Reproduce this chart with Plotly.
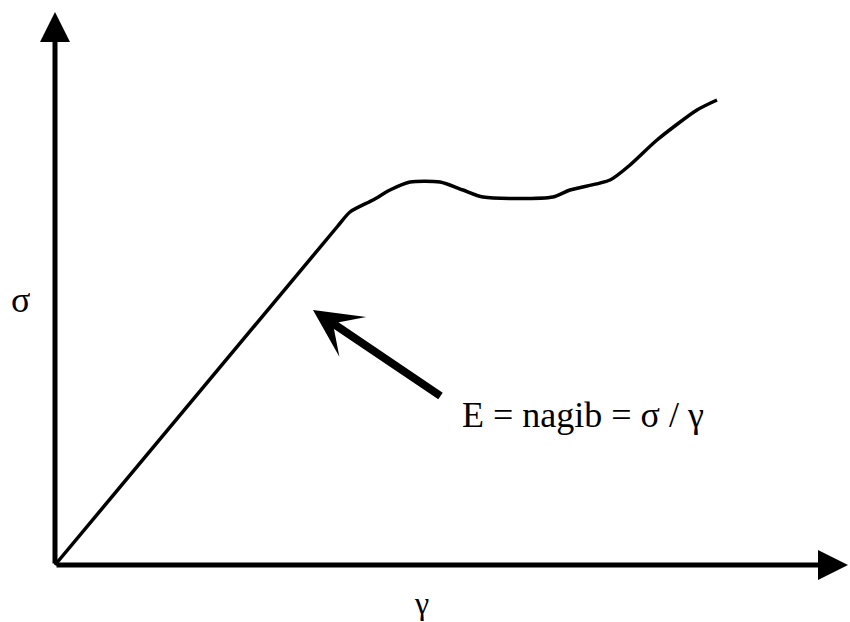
import plotly.graph_objects as go

##################
### data (arbitrary units)
gamma = [0.0, 2.82, 2.95, 3.18, 3.35, 3.55, 3.85, 4.08, 4.28, 4.98, 5.15, 5.55, 5.75, 6.02, 6.42, 6.62]
sigma = [0.0, 3.38, 3.53, 3.65, 3.75, 3.83, 3.83, 3.75, 3.68, 3.68, 3.75, 3.85, 4.00, 4.25, 4.55, 4.65]

# axis extents
gammaMax = 7.93
sigmaMax = 5.53

# label texts
xLabel = "γ"
yLabel = "σ"
noteText = "E = nagib = σ / γ"
# arrow pointing at the elastic part
noteTip = [2.58, 2.55]
noteTail = [3.87, 1.68]
notePos = [4.05, 1.50]

serif = "Liberation Serif, Times New Roman, serif"

fig = go.Figure()

# the curve
fig.add_trace(go.Scatter(x=gamma, y=sigma, mode="lines",
                         line=dict(color="black", width=3.5, shape="spline", smoothing=0.7),
                         hoverinfo="skip", showlegend=False))

# axes drawn as arrows
fig.add_annotation(x=gammaMax, y=0, ax=0, ay=0, xref="x", yref="y", axref="x", ayref="y",
                   text="", showarrow=True, arrowhead=2, arrowwidth=5, arrowsize=1.2,
                   arrowcolor="black", standoff=0)
fig.add_annotation(x=0, y=sigmaMax, ax=0, ay=0, xref="x", yref="y", axref="x", ayref="y",
                   text="", showarrow=True, arrowhead=2, arrowwidth=5, arrowsize=1.2,
                   arrowcolor="black", standoff=0)

# annotation arrow
fig.add_annotation(x=noteTip[0], y=noteTip[1], ax=noteTail[0], ay=noteTail[1],
                   xref="x", yref="y", axref="x", ayref="y",
                   text="", showarrow=True, arrowhead=3, arrowwidth=8, arrowsize=1.0,
                   arrowcolor="black", standoff=0)

# texts
fig.add_annotation(x=notePos[0], y=notePos[1], xref="x", yref="y", text=noteText,
                   showarrow=False, xanchor="left", yanchor="middle",
                   font=dict(family=serif, size=36, color="black"))
fig.add_annotation(x=-0.35, y=2.65, xref="x", yref="y", text=yLabel,
                   showarrow=False, xanchor="center", yanchor="middle",
                   font=dict(family=serif, size=36, color="black"))
fig.add_annotation(x=3.66, y=-0.38, xref="x", yref="y", text=xLabel,
                   showarrow=False, xanchor="center", yanchor="middle",
                   font=dict(family=serif, size=32, color="black"))

fig.update_xaxes(range=[-0.55, 7.95], visible=False, fixedrange=True)
fig.update_yaxes(range=[-0.57, 5.65], visible=False, fixedrange=True)
fig.update_layout(width=850, height=622, margin=dict(l=0, r=0, t=0, b=0),
                  plot_bgcolor="white", paper_bgcolor="white")

# drop the default page margin so the figure fills the window
fig.write_html("out.html", config={"displayModeBar": False},
               post_script="document.body.style.margin='0px';")
